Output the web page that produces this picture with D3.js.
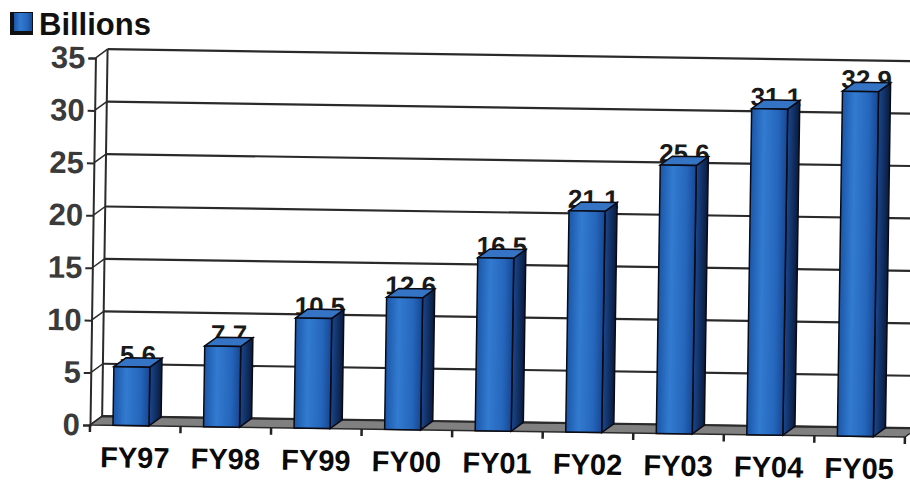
<!DOCTYPE html>
<html>
<head>
<meta charset="utf-8">
<script src="https://cdn.jsdelivr.net/npm/d3@7.9.0/dist/d3.min.js"></script>
<style>
  body { margin: 0; background: #fff; }
  text { font-family: "Liberation Sans", Arial, sans-serif; font-weight: bold; }
</style>
</head>
<body>
<script>
// Chart data
const years = ["FY97", "FY98", "FY99", "FY00", "FY01", "FY02", "FY03", "FY04", "FY05"];
const billions = [5.6, 7.7, 10.5, 12.6, 16.5, 21.1, 25.6, 31.1, 32.9];
const yTicks = [0, 5, 10, 15, 20, 25, 30, 35];
const seriesName = "Billions";

const width = 910, height = 485;
const depth = { dx: 12, dy: -9 };

const svg = d3.select("body").append("svg")
    .attr("width", width).attr("height", height);

const defs = svg.append("defs");
const front = defs.append("linearGradient").attr("id", "front");
front.append("stop").attr("offset", "0%").attr("stop-color", "#1a56a8");
front.append("stop").attr("offset", "35%").attr("stop-color", "#327bd0");
front.append("stop").attr("offset", "75%").attr("stop-color", "#2566bb");
front.append("stop").attr("offset", "100%").attr("stop-color", "#164892");
const side = defs.append("linearGradient").attr("id", "side");
side.append("stop").attr("offset", "0%").attr("stop-color", "#1a4890");
side.append("stop").attr("offset", "100%").attr("stop-color", "#0a1a3c");

// Legend / title
svg.append("rect").attr("x", 10).attr("y", 12).attr("width", 23).attr("height", 23).attr("fill", "#111");
svg.append("rect").attr("x", 14).attr("y", 13).attr("width", 18).attr("height", 18).attr("fill", "url(#front)");
svg.append("text").attr("x", 39).attr("y", 35).attr("font-size", 31).attr("fill", "#111").text(seriesName);

// Scanned page is tilted slightly
const g = svg.append("g").attr("transform", "rotate(0.85, 90, 425)");

const x = d3.scaleBand().domain(years).range([90, 905]).paddingInner(0).paddingOuter(0);
const y = d3.scaleLinear().domain([0, 35]).range([425, 58]);

const x0 = x.range()[0], x1 = x.range()[1];

// Floor
g.append("path")
    .attr("d", `M${x0},${y(0)} L${x1},${y(0)} L${x1 + depth.dx},${y(0) + depth.dy} L${x0 + depth.dx},${y(0) + depth.dy} Z`)
    .attr("fill", "#808080").attr("stroke", "#2a2a2a").attr("stroke-width", 1.5);

// Back wall gridlines + left wall
yTicks.forEach(t => {
    g.append("line")
        .attr("x1", x0 + depth.dx).attr("x2", width + 20)
        .attr("y1", y(t) + depth.dy).attr("y2", y(t) + depth.dy)
        .attr("stroke", "#2a2a2a").attr("stroke-width", 2.2);
    g.append("line")
        .attr("x1", x0).attr("x2", x0 + depth.dx)
        .attr("y1", y(t)).attr("y2", y(t) + depth.dy)
        .attr("stroke", "#2a2a2a").attr("stroke-width", 1.5);
});
g.append("line").attr("x1", x0 + depth.dx).attr("x2", x0 + depth.dx)
    .attr("y1", y(35) + depth.dy).attr("y2", y(0) + depth.dy)
    .attr("stroke", "#2a2a2a").attr("stroke-width", 2);

// Y axis
const yAxis = g.append("g").attr("transform", `translate(${x0},0)`)
    .call(d3.axisLeft(y).tickValues(yTicks).tickSize(7).tickPadding(3));
yAxis.select(".domain").attr("stroke", "#2a2a2a").attr("stroke-width", 2);
yAxis.selectAll(".tick line").attr("stroke", "#2a2a2a").attr("stroke-width", 2);
yAxis.selectAll("text").attr("font-size", 31).attr("fill", "#3a3a3a")
    .style("font-family", "'Liberation Sans', Arial, sans-serif").style("font-weight", "bold");

// X axis (ticks at category boundaries)
const bounds = years.map(d => x(d)).concat([x1]);
g.selectAll(".xtick").data(bounds).enter().append("line")
    .attr("x1", d => d).attr("x2", d => d)
    .attr("y1", y(0)).attr("y2", y(0) + 7)
    .attr("stroke", "#222").attr("stroke-width", 2.5);
g.selectAll(".xlab").data(years).enter().append("text")
    .attr("x", d => x(d) + x.bandwidth() / 2)
    .attr("y", 467)
    .attr("text-anchor", "middle")
    .attr("font-size", 29).attr("fill", "#0a0a0a")
    .text(d => d);

// Bars
const barOffset = 23, barW = 36;
const bars = g.selectAll(".bar").data(years.map((d, i) => ({ year: d, value: billions[i] })))
    .enter().append("g").attr("class", "bar");

// value labels sit just behind the bar top
bars.append("text")
    .attr("x", d => x(d.year) + barOffset + (barW + depth.dx) / 2)
    .attr("y", d => y(d.value) - 3)
    .attr("text-anchor", "middle")
    .attr("font-size", 26).attr("fill", "#1a1a1a")
    .text(d => d.value.toFixed(1));

bars.append("path")
    .attr("d", d => {
        const l = x(d.year) + barOffset, r = l + barW, t = y(d.value), b = y(0);
        return `M${r},${t} L${r + depth.dx},${t + depth.dy} L${r + depth.dx},${b + depth.dy} L${r},${b} Z`;
    })
    .attr("fill", "url(#side)").attr("stroke", "#0a0a14").attr("stroke-width", 1.5);
bars.append("path")
    .attr("d", d => {
        const l = x(d.year) + barOffset, r = l + barW, t = y(d.value);
        return `M${l},${t} L${l + depth.dx},${t + depth.dy} L${r + depth.dx},${t + depth.dy} L${r},${t} Z`;
    })
    .attr("fill", "#3574c4").attr("stroke", "#0a0a14").attr("stroke-width", 1.5);
bars.append("rect")
    .attr("x", d => x(d.year) + barOffset)
    .attr("y", d => y(d.value))
    .attr("width", barW)
    .attr("height", d => y(0) - y(d.value))
    .attr("fill", "url(#front)").attr("stroke", "#0a0a14").attr("stroke-width", 1.5);
</script>
</body>
</html>
